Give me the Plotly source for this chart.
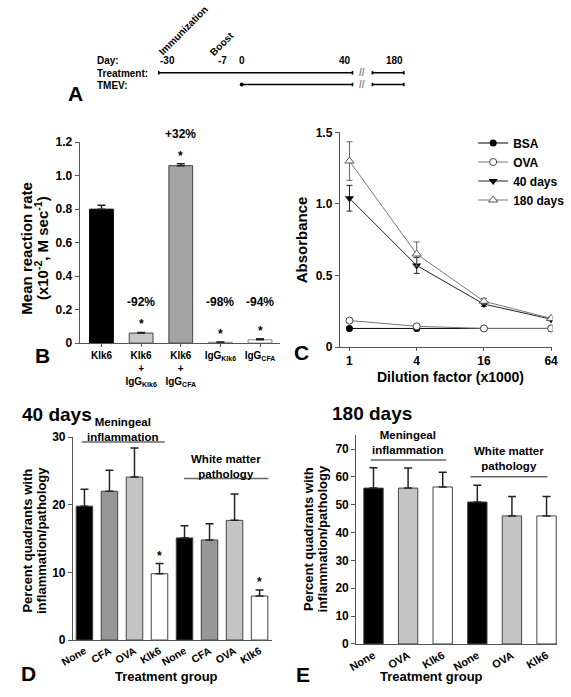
import plotly.graph_objects as go

W, H = 571, 697


def px(x):
    return x / W


def py(y):
    return 1 - y / H


# ---------------- Panel A: timeline ----------------
treatment_span = [-30, 40]
tmev_span = [0, 40]
late_span = [170, 180]          # segment shown after the axis break
day_marks = [-30, -7, 0, 40]
late_day_mark = 180
events = [("Immunization", -30), ("Boost", -7)]

# ---------------- Panel B ----------------
b_labels = ["Klk6", "Klk6<br>+<br>IgG<sub>Klk6</sub>", "Klk6<br>+<br>IgG<sub>CFA</sub>",
            "IgG<sub>Klk6</sub>", "IgG<sub>CFA</sub>"]
b_values = [0.80, 0.06, 1.06, 0.005, 0.02]
b_errors = [0.024, 0.004, 0.012, 0.002, 0.006]
b_change = ["", "-92%", "+32%", "-98%", "-94%"]
b_signif = [False, True, True, True, True]
b_colors = ["#000000", "#c8c8c8", "#a3a3a3", "#ffffff", "#ffffff"]

# ---------------- Panel C ----------------
c_dilution = [1, 4, 16, 64]
c_bsa = [0.13, 0.13, 0.13, 0.13]
c_ova = [0.185, 0.145, 0.13, 0.13]
c_40 = [1.04, 0.57, 0.30, 0.195]
c_40_err = [0.09, 0.055, 0.015, 0.01]
c_180 = [1.30, 0.65, 0.32, 0.20]
c_180_err = [0.135, 0.085, 0.02, 0.01]

# ---------------- Panel D (40 days) ----------------
d_groups = ["None", "CFA", "OVA", "Klk6"]
d_mening = [19.8, 22.0, 24.1, 9.8]
d_mening_err = [2.5, 3.1, 4.3, 1.5]
d_white = [15.1, 14.8, 17.7, 6.5]
d_white_err = [1.8, 2.4, 3.9, 0.9]
d_signif = [False, False, False, True]
d_colors = ["#000000", "#969696", "#c4c4c4", "#ffffff"]

# ---------------- Panel E (180 days) ----------------
e_groups = ["None", "OVA", "Klk6"]
e_mening = [56.0, 56.0, 56.4]
e_mening_err = [7.3, 7.2, 5.3]
e_white = [51.0, 46.0, 46.0]
e_white_err = [6.0, 7.0, 7.0]
e_colors = ["#000000", "#c4c4c4", "#ffffff"]

FONT = "Liberation Sans, Arial, sans-serif"
AXC = "#555555"
EDGE = "#444444"

fig = go.Figure()

# ---- Panel A traces ----
for row, span in [(0, treatment_span), (1, tmev_span)]:
    fig.add_trace(go.Scatter(x=span, y=[row, row], xaxis="x5", yaxis="y5", mode="lines+markers",
                             line=dict(color="black", width=1.5), marker=dict(size=4, color="black"),
                             showlegend=False, hoverinfo="skip"))
    fig.add_trace(go.Scatter(x=late_span, y=[row, row], xaxis="x6", yaxis="y5", mode="lines+markers",
                             line=dict(color="black", width=1.5), marker=dict(size=4, color="black"),
                             showlegend=False, hoverinfo="skip"))

# ---- Panel B ----
fig.add_trace(go.Bar(x=b_labels, y=b_values, width=0.6, xaxis="x", yaxis="y",
                     marker=dict(color=b_colors, line=dict(color=["#000000", EDGE, EDGE, "#888888", "#888888"], width=1)),
                     error_y=dict(type="data", symmetric=False, array=b_errors, arrayminus=[0] * len(b_errors),
                                  color="#222222", thickness=1.5, width=4),
                     showlegend=False))

# ---- Panel C ----
fig.add_trace(go.Scatter(x=c_dilution, y=c_bsa, name="BSA", xaxis="x2", yaxis="y2", mode="lines+markers",
                         line=dict(color="black", width=1),
                         marker=dict(symbol="circle", size=7, color="black")))
fig.add_trace(go.Scatter(x=c_dilution, y=c_ova, name="OVA", xaxis="x2", yaxis="y2", mode="lines+markers",
                         line=dict(color="#777777", width=1),
                         marker=dict(symbol="circle", size=7, color="white", line=dict(color="#444444", width=1))))
fig.add_trace(go.Scatter(x=c_dilution, y=c_40, name="40 days", xaxis="x2", yaxis="y2", mode="lines+markers",
                         line=dict(color="#222222", width=1),
                         marker=dict(symbol="triangle-down", size=8, color="black"),
                         error_y=dict(type="data", array=c_40_err, color="#222222", thickness=1, width=3)))
fig.add_trace(go.Scatter(x=c_dilution, y=c_180, name="180 days", xaxis="x2", yaxis="y2", mode="lines+markers",
                         line=dict(color="#777777", width=1),
                         marker=dict(symbol="triangle-up", size=8, color="white", line=dict(color="#555555", width=1)),
                         error_y=dict(type="data", array=c_180_err, color="#666666", thickness=1, width=3)))

# ---- Panel D ----
d_x = list(range(2 * len(d_groups)))
d_vals = d_mening + d_white
d_errs = d_mening_err + d_white_err
fig.add_trace(go.Bar(x=d_x, y=d_vals, width=0.66, xaxis="x3", yaxis="y3",
                     marker=dict(color=d_colors * 2, line=dict(color=EDGE, width=1)),
                     error_y=dict(type="data", symmetric=False, array=d_errs, arrayminus=[0] * len(d_errs),
                                  color="#222222", thickness=1.5, width=4),
                     showlegend=False))

# ---- Panel E ----
e_x = list(range(2 * len(e_groups)))
e_vals = e_mening + e_white
e_errs = e_mening_err + e_white_err
fig.add_trace(go.Bar(x=e_x, y=e_vals, width=0.56, xaxis="x4", yaxis="y4",
                     marker=dict(color=e_colors * 2, line=dict(color=EDGE, width=1)),
                     error_y=dict(type="data", symmetric=False, array=e_errs, arrayminus=[0] * len(e_errs),
                                  color="#222222", thickness=1.5, width=4),
                     showlegend=False))

ann = []


def text(x, y, s, size, xref="paper", yref="paper", xanchor="center", yanchor="middle", angle=0,
         color="black", yshift=0):
    ann.append(dict(x=x, y=y, text=s, xref=xref, yref=yref, xanchor=xanchor, yanchor=yanchor,
                    showarrow=False, textangle=angle, font=dict(size=size, color=color), yshift=yshift))


# Panel A texts
text(px(85), py(55), "Day:", 10, xanchor="left")
text(px(85), py(68), "Treatment:", 10, xanchor="left")
text(px(85), py(80), "TMEV:", 10, xanchor="left")
for d in day_marks:
    text(d, py(55), str(d), 10, xref="x5",
         xanchor="left" if d == day_marks[0] else ("right" if d == day_marks[-1] else "center"))
text(late_day_mark, py(55), str(late_day_mark), 10, xref="x6", xanchor="right")
text(px(176), py(24), events[0][0], 10, angle=-45)
text(px(216), py(37), events[1][0], 10, angle=-45)
for row in [0, 1]:
    text(px(361), row, "//", 10, yref="y5", color="#888888")

# Panel labels
text(px(55), py(88), "A", 21, xanchor="left")
text(px(21), py(356), "B", 21, xanchor="left")
text(px(289), py(353), "C", 21, xanchor="left")
text(px(6), py(680), "D", 21, xanchor="left")
text(px(291), py(681), "E", 21, xanchor="left")

# Panel B annotations (star just above the error bar, change label >= 30 px above)
B_PX_PER_UNIT = 205 / 1.2
for lab, v, e, ch, sig in zip(b_labels, b_values, b_errors, b_change, b_signif):
    top = v + e
    if sig:
        text(lab, top, "*", 12, xref="x", yref="y", yshift=8)
    if ch:
        text(lab, top, ch, 12, xref="x", yref="y", yshift=max(30, (0.24 - top) * B_PX_PER_UNIT))
text(px(13), py(246), "Mean reaction rate", 15, angle=-90)
text(px(29), py(246), "(x10<sup>-2</sup>, M sec<sup>-1</sup>)", 15, angle=-90)

# Panel C annotations
text(px(298), py(238), "Absorbance", 15, angle=-90)
text(px(453), py(378), "Dilution factor (x1000)", 14)

# Panel D annotations
text(px(7), py(416), "40 days", 19, xanchor="left")
for i, (v, e, s) in enumerate(zip(d_vals, d_errs, d_signif * 2)):
    if s:
        text(d_x[i], v + e, "*", 12, xref="x3", yref="y3", yshift=8)
text(px(15), py(545), "Percent quadrants with", 13, angle=-90)
text(px(29), py(545), "inflammation/pathology", 13, angle=-90)
text(px(159), py(683), "Treatment group", 13)
text(px(114), py(431), "Meningeal<br>inflammation", 11.5)
text(px(220), py(469), "White matter<br>pathology", 11.5)

# Panel E annotations
text(px(328), py(415), "180 days", 19, xanchor="left")
text(px(305), py(543), "Percent quadrants with", 13, angle=-90)
text(px(320), py(543), "inflammation/pathology", 13, angle=-90)
text(px(433), py(683), "Treatment group", 13)
text(px(409), py(444), "Meningeal<br>inflammation", 11.5)
text(px(513), py(461), "White matter<br>pathology", 11.5)

shapes = [
    dict(type="line", xref="x3", yref="y3", x0=-0.11, x1=3.21, y0=29.3, y1=29.3, line=dict(color="#666666", width=1.5)),
    dict(type="line", xref="x3", yref="y3", x0=3.98, x1=7.35, y0=23.9, y1=23.9, line=dict(color="#666666", width=1.5)),
    dict(type="line", xref="x4", yref="y4", x0=-0.08, x1=2.10, y0=66.1, y1=66.1, line=dict(color="#666666", width=1.5)),
    dict(type="line", xref="x4", yref="y4", x0=2.80, x1=5.03, y0=60.1, y1=60.1, line=dict(color="#666666", width=1.5)),
]

axis_common = dict(showline=True, linecolor=AXC, linewidth=1, showgrid=False, zeroline=False,
                   ticks="outside", tickcolor=AXC, ticklen=4, mirror=False)

fig.update_layout(
    width=W, height=H, margin=dict(l=0, r=0, t=0, b=0),
    paper_bgcolor="white", plot_bgcolor="white",
    font=dict(family=FONT, size=12, color="black", weight="bold"),
    annotations=ann, shapes=shapes,
    legend=dict(x=px(476), y=py(124), xanchor="left", yanchor="top", bgcolor="rgba(0,0,0,0)",
                font=dict(size=12), tracegroupgap=0),
    # B
    xaxis=dict(domain=[px(69), px(276)], anchor="y", type="category", range=[-0.55, 4.5],
               tickfont=dict(size=10), **{**axis_common, "ticklen": 3}),
    yaxis=dict(domain=[py(343), py(138)], anchor="x", range=[0, 1.2],
               tickvals=[0, 0.2, 0.4, 0.6, 0.8, 1.0, 1.2],
               ticktext=["0", "0.2", "0.4", "0.6", "0.8", "1.0", "1.2"], tickfont=dict(size=12), **axis_common),
    # C
    xaxis2=dict(domain=[px(338), px(558)], anchor="y2", type="log", range=[-0.087, 1.818],
                tickvals=c_dilution, ticktext=[str(v) for v in c_dilution], tickfont=dict(size=12),
                **{**axis_common, "ticklen": 3}),
    yaxis2=dict(domain=[py(347), py(128)], anchor="x2", range=[0, 1.5], tickvals=[0, 0.5, 1.0, 1.5],
                ticktext=["0", "0.5", "1.0", "1.5"], tickfont=dict(size=12), **axis_common),
    # D
    xaxis3=dict(domain=[px(62), px(268)], anchor="y3", range=[-0.46, 7.5], tickvals=d_x,
                ticktext=d_groups * 2, tickangle=-30, tickfont=dict(size=10.5), **{**axis_common, "ticks": ""}),
    yaxis3=dict(domain=[py(646), py(439)], anchor="x3", range=[0, 30], tickvals=[0, 10, 20, 30],
                tickfont=dict(size=12), **axis_common),
    # E
    xaxis4=dict(domain=[px(355), px(563)], anchor="y4", range=[-0.5, 5.31], tickvals=e_x,
                ticktext=e_groups * 2, tickangle=-30, tickfont=dict(size=11), **{**axis_common, "ticks": ""}),
    yaxis4=dict(domain=[py(650), py(437)], anchor="x4", range=[0, 75], tickvals=list(range(0, 80, 10)),
                tickfont=dict(size=12), **axis_common),
    # A
    xaxis5=dict(domain=[px(150), px(352)], anchor="y5", range=[-30, 40], visible=False),
    xaxis6=dict(domain=[px(371), px(405)], anchor="y5", range=late_span, visible=False),
    yaxis5=dict(domain=[py(85), py(61)], anchor="x5", range=[1.5, -0.5], visible=False),
)

fig.write_html("out.html", post_script="document.body.style.margin='0px';",
               config={"displayModeBar": False})
